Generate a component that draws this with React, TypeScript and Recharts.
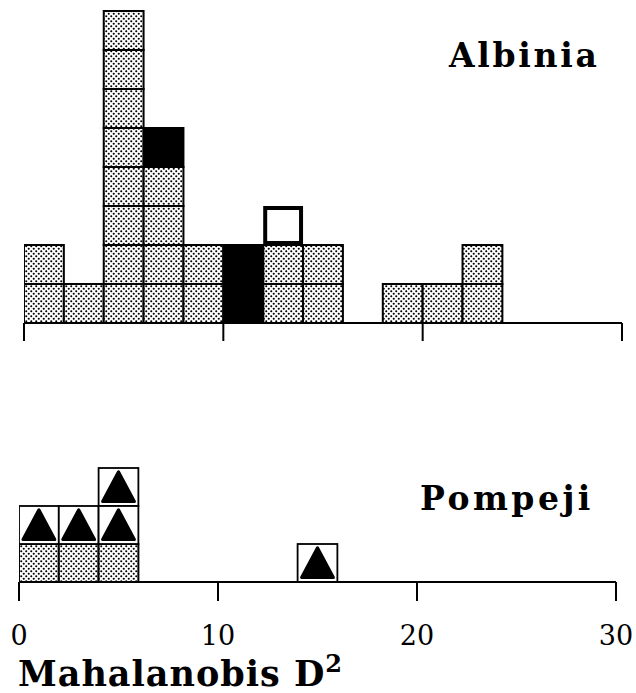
import React from 'react';
import { BarChart, Bar, XAxis, YAxis } from 'recharts';

// Bin start values (Mahalanobis D², bin width 2)
const binStarts = [0, 2, 4, 6, 8, 10, 12, 14, 16, 18, 20, 22, 24, 26, 28];
const axisTicks = [0, 10, 20, 30];

// Albinia: counts per bin, stacked bottom → top
const albiniaStippled = [2, 1, 8, 4, 2, 0, 2, 2, 0, 1, 1, 2, 0, 0, 0];
const albiniaSolid = [0, 0, 0, 1, 0, 2, 0, 0, 0, 0, 0, 0, 0, 0, 0];
const albiniaOpen = [0, 0, 0, 0, 0, 0, 1, 0, 0, 0, 0, 0, 0, 0, 0];

// Pompeji
const pompejiStippled = [1, 1, 1, 0, 0, 0, 0, 0, 0, 0, 0, 0, 0, 0, 0];
const pompejiTriangle = [1, 1, 2, 0, 0, 0, 0, 1, 0, 0, 0, 0, 0, 0, 0];

const BIN_WIDTH = 2;

const albiniaData = binStarts.map((b, i) => ({
  mid: b + BIN_WIDTH / 2,
  stippled: albiniaStippled[i],
  solid: albiniaSolid[i],
  open: albiniaOpen[i],
}));

const pompejiData = binStarts.map((b, i) => ({
  mid: b + BIN_WIDTH / 2,
  stippled: pompejiStippled[i],
  triangle: pompejiTriangle[i],
}));

const FONT = '"DejaVu Serif", "Liberation Serif", serif';

type Kind = 'stippled' | 'solid' | 'open' | 'triangle';

const makeShape = (kind: Kind) => (props: any) => {
  const { x, y, width, height, payload } = props;
  const n = payload ? payload[kind] : 0;
  if (!n || !height || height <= 0) return <g />;
  const h = height / n;
  const items: React.ReactNode[] = [];
  for (let i = 0; i < n; i++) {
    const yy = y + i * h;
    if (kind === 'stippled') {
      items.push(
        <rect key={i} x={x} y={yy} width={width} height={h} fill="url(#stipple)" stroke="#000" strokeWidth={2} />
      );
    } else if (kind === 'solid') {
      items.push(<rect key={i} x={x} y={yy} width={width} height={h} fill="#000" stroke="#000" strokeWidth={2} />);
    } else if (kind === 'open') {
      items.push(
        <rect key={i} x={x + 2} y={yy + 2} width={width - 4} height={h - 4} fill="#fff" stroke="#000" strokeWidth={4} />
      );
    } else {
      const cx = x + width / 2;
      items.push(
        <g key={i}>
          <rect x={x} y={yy} width={width} height={h} fill="#fff" stroke="#000" strokeWidth={1.8} />
          <polygon
            points={`${cx},${yy + h * 0.1} ${x + width * 0.1},${yy + h * 0.88} ${x + width * 0.9},${yy + h * 0.88}`}
            fill="#000"
            stroke="#000"
            strokeWidth={3}
            strokeLinejoin="round"
          />
        </g>
      );
    }
  }
  return <g>{items}</g>;
};

const axisLineStyle = { stroke: '#000', strokeWidth: 2 };

const TOP_W = 636;
const TOP_MARGIN = { top: 11, right: 14, left: 24, bottom: 0 };
const BOT_MARGIN = { top: 28, right: 20, left: 19, bottom: 0 };
// bar width = one bin on the axis (slightly under so Recharts does not shrink it)
const topBarSize = (TOP_W - TOP_MARGIN.left - TOP_MARGIN.right) / binStarts.length - 0.02;
const botBarSize = (TOP_W - BOT_MARGIN.left - BOT_MARGIN.right) / binStarts.length - 0.02;

const EmptyTick = () => <g />;

export default function App() {
  return (
    <div style={{ position: 'absolute', left: 0, top: 0, width: 636, height: 693, background: '#fff', overflow: 'hidden' }}>
      <svg width={0} height={0} style={{ position: 'absolute' }}>
        <defs>
          <pattern id="stipple" width={5} height={5} patternUnits="userSpaceOnUse">
            <rect width={5} height={5} fill="#fff" />
            <circle cx={1.25} cy={1.25} r={1.05} fill="#000" />
            <circle cx={3.75} cy={3.75} r={1.05} fill="#000" />
          </pattern>
        </defs>
      </svg>

      <div style={{ position: 'absolute', left: 0, top: 0 }}>
        <BarChart
          width={TOP_W}
          height={360}
          data={albiniaData}
          margin={TOP_MARGIN}
          barCategoryGap={0}
          barGap={0}
          barSize={topBarSize}
        >
          <XAxis
            dataKey="mid"
            type="number"
            domain={[0, 30]}
            ticks={axisTicks}
            allowDataOverflow
            height={37}
            tick={EmptyTick}
            tickSize={18}
            axisLine={axisLineStyle}
            tickLine={axisLineStyle}
          />
          <YAxis hide domain={[0, 8]} />
          <Bar dataKey="stippled" stackId="a" isAnimationActive={false} shape={makeShape('stippled')} />
          <Bar dataKey="solid" stackId="a" isAnimationActive={false} shape={makeShape('solid')} />
          <Bar dataKey="open" stackId="a" isAnimationActive={false} shape={makeShape('open')} />
        </BarChart>
      </div>

      <div style={{ position: 'absolute', left: 0, top: 440 }}>
        <BarChart
          width={TOP_W}
          height={230}
          data={pompejiData}
          margin={BOT_MARGIN}
          barCategoryGap={0}
          barGap={0}
          barSize={botBarSize}
        >
          <XAxis
            dataKey="mid"
            type="number"
            domain={[0, 30]}
            ticks={axisTicks}
            allowDataOverflow
            height={88}
            tickSize={19}
            tickMargin={25}
            axisLine={axisLineStyle}
            tickLine={axisLineStyle}
            tick={{ fill: '#000', fontSize: 27, fontFamily: FONT }}
          />
          <YAxis hide domain={[0, 3]} />
          <Bar dataKey="stippled" stackId="a" isAnimationActive={false} shape={makeShape('stippled')} />
          <Bar dataKey="triangle" stackId="a" isAnimationActive={false} shape={makeShape('triangle')} />
        </BarChart>
      </div>

      <svg width={636} height={693} style={{ position: 'absolute', left: 0, top: 0, pointerEvents: 'none' }}>
        <text x={449} y={67} fontFamily={FONT} fontWeight="bold" fontSize={33} letterSpacing={2.7} fill="#000">
          Albinia
        </text>
        <text x={420} y={510} fontFamily={FONT} fontWeight="bold" fontSize={33} letterSpacing={3.5} fill="#000">
          Pompeji
        </text>
        <text x={18} y={686} fontFamily={FONT} fontWeight="bold" fontSize={35} letterSpacing={1} fill="#000">
          Mahalanobis D<tspan dy={-14} fontSize={24}>2</tspan>
        </text>
      </svg>
    </div>
  );
}
